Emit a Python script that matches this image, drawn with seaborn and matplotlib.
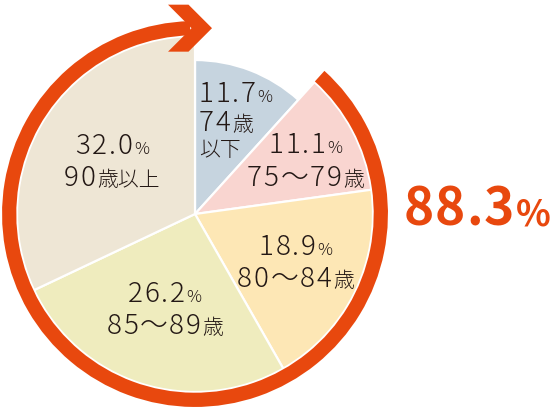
import re

import matplotlib
matplotlib.use("Agg")
import numpy as np
import seaborn as sns
import matplotlib.pyplot as plt
from matplotlib.patches import Wedge, Polygon
from matplotlib.offsetbox import TextArea, HPacker, VPacker, AnnotationBbox

# data (share of each age group, %)
shares = [11.7, 11.1, 18.9, 26.2, 32.0]
age_lines = [["74歳", "以下"], ["75～79歳"], ["80～84歳"], ["85～89歳"], ["90歳以上"]]
slice_colors = ["#C6D4DF", "#F9D5D0", "#FDE7B5", "#EFECBE", "#EEE6D5"]

highlight = 100 - shares[0]     # everything but the first group

sns.set_theme(style="white")
FAMILY = ["Noto Sans CJK JP", "DejaVu Sans"]
plt.rcParams["font.family"] = FAMILY

INK = "#231815"
ORANGE = "#E8480E"
PX = 178.0          # pixels per data unit (pie radius)
CX, CY = 195, 214   # pie centre in pixels
W, H = 555, 412


def line_box(text, big, small, color, weight="light", track=1.3):
    """one text line, digits large (slightly tracked) and the rest small"""
    kids = []
    for p in re.findall(r"[0-9.～]+|[^0-9.～]+", text):
        if re.match(r"[0-9.～]", p):
            for ch in p:
                kids.append(TextArea(ch, textprops=dict(
                    fontsize=big, color=color, fontweight=weight, family=FAMILY)))
        else:
            kids.append(TextArea(p, textprops=dict(
                fontsize=small, color=color, fontweight=weight, family=FAMILY)))
    return HPacker(children=kids, align="baseline", pad=0, sep=track)


fig = plt.figure(figsize=(W / 100, H / 100), dpi=100)
ax = fig.add_axes([0, 0, 1, 1])

wedges, _ = ax.pie(shares, colors=sns.color_palette(slice_colors),
                   startangle=90, counterclock=False, radius=1.0,
                   wedgeprops=dict(edgecolor="white", linewidth=1.6))
# first group is drawn pulled in
wedges[0].set_radius(0.865)

# orange ring covering the highlighted share, ending in an arrow head
start = 90 - 360 * shares[0] / 100
r_out, r_w = 1.084, 0.08
ax.add_patch(Wedge((0, 0), r_out, 91.5, 360 + start, width=r_w,
                   facecolor=ORANGE, edgecolor="none"))
rc = r_out - r_w / 2
tip, h, w = 0.0955, 0.132, 0.115
head = [(tip - h - w, rc + h), (tip - h, rc + h), (tip, rc),
        (tip - h, rc - h), (tip - h - w, rc - h), (tip - w, rc)]
ax.add_patch(Polygon(head, closed=True, facecolor=ORANGE, edgecolor="none"))

# slice labels: along the mid angle, then a small nudge in pixels
label_r = [0.575, 0.69, 0.63, 0.57, 0.55]
nudge = [(4, 2), (2, 5), (0, 0), (0, -1), (0, 0)]
line_gap = [1, 3, 3, 3, 3]
line_align = ["left", "center", "center", "center", "center"]
cum = np.cumsum(shares)
for i, v in enumerate(shares):
    mid = np.deg2rad(360 * (cum[i] - v / 2) / 100)
    x = label_r[i] * np.sin(mid) + nudge[i][0] / PX
    y = label_r[i] * np.cos(mid) - nudge[i][1] / PX
    lines = [line_box(f"{v:.1f}%", 20, 12, INK)]
    lines += [line_box(t, 20, 15, INK) for t in age_lines[i]]
    box = VPacker(children=lines, align=line_align[i], pad=0, sep=line_gap[i])
    ax.add_artist(AnnotationBbox(box, (x, y), frameon=False,
                                 box_alignment=(0.5, 0.5),
                                 annotation_clip=False))

# big figure on the right
big = line_box(f"{highlight:.1f}%", 37, 26, ORANGE, "bold", track=0.8)
ax.add_artist(AnnotationBbox(big, ((477 - CX) / PX, (CY - 210) / PX),
                             frameon=False, box_alignment=(0.5, 0.5),
                             annotation_clip=False))

ax.set_xlim(-CX / PX, (W - CX) / PX)
ax.set_ylim((CY - H) / PX, CY / PX)
ax.set_aspect("auto")
ax.axis("off")

fig.savefig("out.png", dpi=100)
